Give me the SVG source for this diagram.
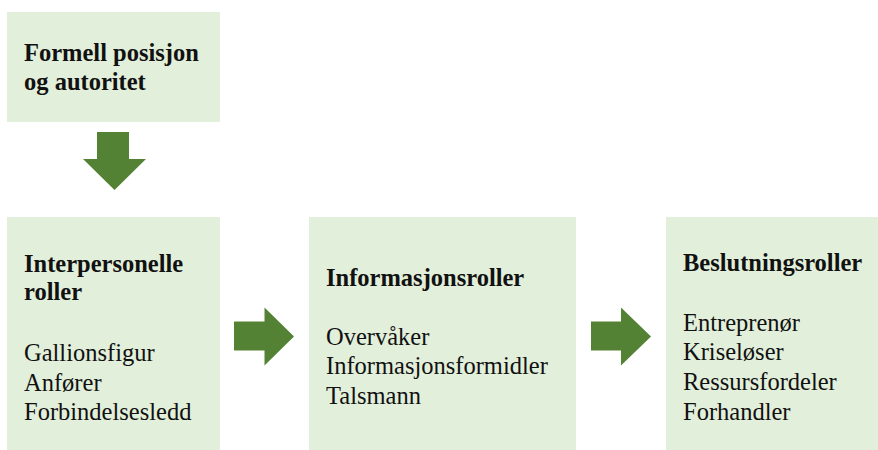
<svg xmlns="http://www.w3.org/2000/svg" width="878" height="450" viewBox="0 0 878 450">
  <style>
    .box { fill: #E2EFDA; }
    .arrow { fill: #548235; }
    .t { font-family: 'Liberation Serif', Tinos, 'Times New Roman', 'DejaVu Serif', serif; font-size: 24.5px; fill: #111111; }
    .head { font-weight: bold; }
  </style>
  <rect width="878" height="450" fill="#FFFFFF"/>

  <!-- top node -->
  <g id="formell" class="t">
    <rect class="box" x="7" y="12" width="213" height="110"/>
    <text class="head" x="24" y="61">Formell posisjon</text>
    <text class="head" x="24" y="89.5">og autoritet</text>
  </g>

  <!-- role nodes -->
  <g id="interpersonelle" class="t">
    <rect class="box" x="7" y="217" width="213" height="233"/>
    <text class="head" x="24" y="272">Interpersonelle</text>
    <text class="head" x="24" y="300">roller</text>
    <text x="24" y="361">Gallionsfigur</text>
    <text x="24" y="390.5">Anfører</text>
    <text x="24" y="419.5">Forbindelsesledd</text>
  </g>

  <g id="informasjon" class="t">
    <rect class="box" x="309" y="217" width="267" height="233"/>
    <text class="head" x="326" y="285.5">Informasjonsroller</text>
    <text x="326" y="345">Overvåker</text>
    <text x="326" y="374">Informasjonsformidler</text>
    <text x="326" y="403.5">Talsmann</text>
  </g>

  <g id="beslutning" class="t">
    <rect class="box" x="666" y="217" width="212" height="233"/>
    <text class="head" x="683" y="271">Beslutningsroller</text>
    <text x="683" y="330.5">Entreprenør</text>
    <text x="683" y="360">Kriseløser</text>
    <text x="683" y="389.5">Ressursfordeler</text>
    <text x="683" y="419.5">Forhandler</text>
  </g>

  <!-- block arrows between the nodes -->
  <g id="connectors">
    <polygon class="arrow" points="97,132 129,132 129,159 146,159 114.5,190 83,159 97,159"/>
    <polygon class="arrow" points="234,321.5 264.5,321.5 264.5,307.5 294,336.5 264.5,365.5 264.5,350.5 234,350.5"/>
    <polygon class="arrow" points="591,321.5 621,321.5 621,307.5 651,336.5 621,365.5 621,350.5 591,350.5"/>
  </g>
</svg>
